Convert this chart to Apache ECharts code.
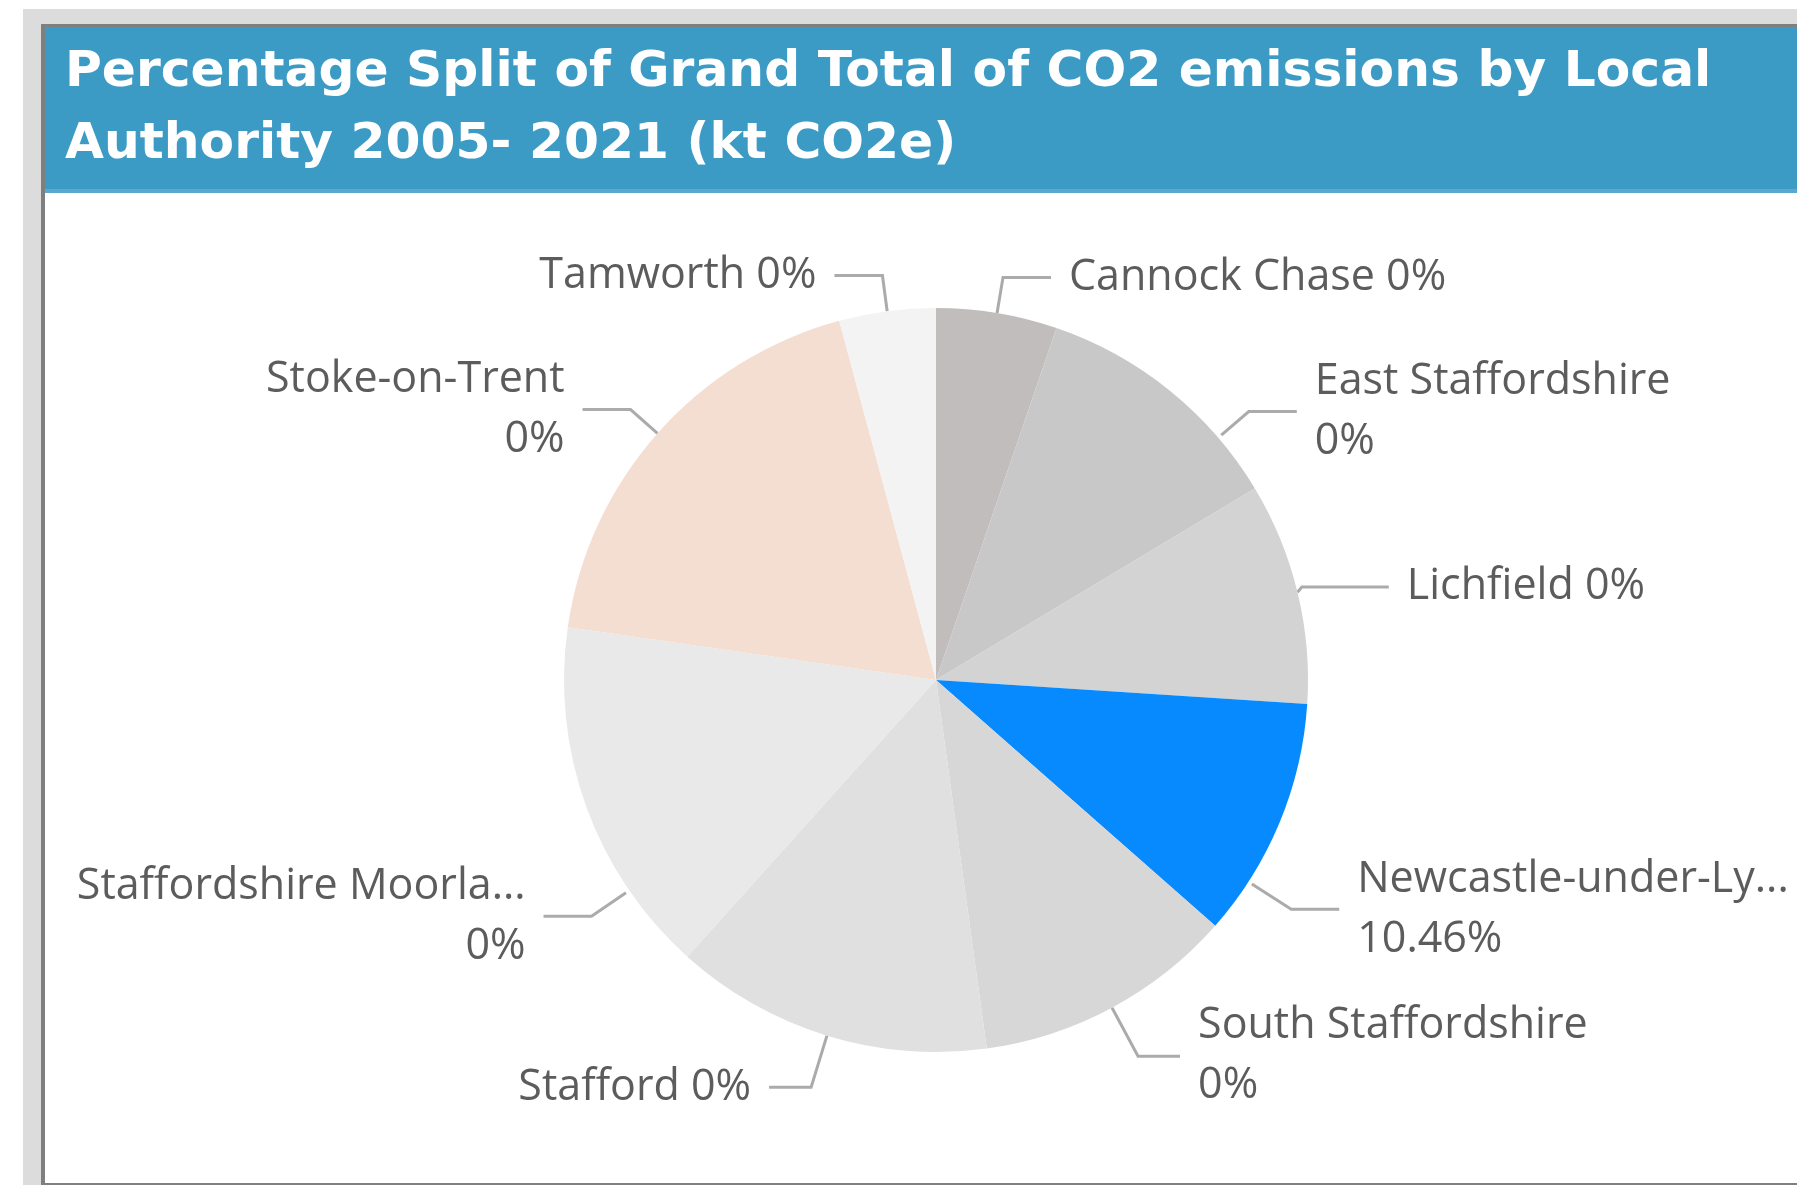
<!DOCTYPE html>
<html>
<head>
<meta charset="utf-8">
<title>CO2 emissions by Local Authority</title>
<script src="https://cdn.jsdelivr.net/npm/echarts@6/dist/echarts.min.js"></script>
<style>
  html, body { margin: 0; padding: 0; background: #ffffff; }
  #chart { width: 1797px; height: 1185px; }
</style>
</head>
<body>
<div id="chart"></div>
<script>
// Local authorities, clockwise from 12 o'clock
const authorities = [
  'Cannock Chase',
  'East Staffordshire',
  'Lichfield',
  'Newcastle-under-Lyme',
  'South Staffordshire',
  'Stafford',
  'Staffordshire Moorlands',
  'Stoke-on-Trent',
  'Tamworth'
];

// Share of the 2005-2021 grand total (%)
const shareOfTotal = [5.25, 11.14, 9.64, 10.46, 11.33, 13.83, 15.61, 18.55, 4.19];

// Names as they fit in the data labels
const labelNames = [
  'Cannock Chase',
  'East Staffordshire',
  'Lichfield',
  'Newcastle-under-Ly...',
  'South Staffordshire',
  'Stafford',
  'Staffordshire Moorla...',
  'Stoke-on-Trent',
  'Tamworth'
];

// The selected authority; all others report 0% of the selection
const selectedAuthority = 'Newcastle-under-Lyme';

const sliceColors = ['#c1bdbc', '#c8c8c8', '#d3d3d3', '#078afe', '#d7d7d7', '#e0e0e0', '#e9e9e9', '#f4ded2', '#f3f3f3'];
const wrappedLabels = ['East Staffordshire', 'Newcastle-under-Lyme', 'South Staffordshire', 'Staffordshire Moorlands', 'Stoke-on-Trent'];

const W = 1797, H = 1185;
const CX = 936, CY = 680, R = 372;
const GAP = 18, ELBOW = 48;

// Leader-line lengths that differ from the series default
const lineTweaks = {
  'Lichfield': { length: 22, length2: 87 },
  'South Staffordshire': { length: 55, length2: 42 },
  'Stafford': { length: 54, length2: 42 }
};
// Labels that sit further round the pie than their slice's mid angle
const labelNudges = {
  'East Staffordshire': { dx: 63, dy: 42 },
  'Newcastle-under-Lyme': { dx: -8, dy: 73 },
  'Staffordshire Moorlands': { dx: 39, dy: 97 }
};

const pieData = authorities.map((name, i) => {
  const item = { name: name, value: shareOfTotal[i], itemStyle: { color: sliceColors[i] } };
  if (lineTweaks[name]) item.labelLine = lineTweaks[name];
  return item;
});

function labelFor(p) {
  const i = p.dataIndex;
  const pct = authorities[i] === selectedAuthority ? shareOfTotal[i].toFixed(2) + '%' : '0%';
  const sep = wrappedLabels.indexOf(authorities[i]) >= 0 ? '\n' : ' ';
  return labelNames[i] + sep + pct;
}

// Moved labels get a leader that runs radially out to the elbow, then across
function nudgedLayout(params) {
  const nudge = labelNudges[authorities[params.dataIndex]];
  if (!nudge) return {};
  const r = params.labelRect;
  const onLeft = r.x + r.width / 2 < CX;
  const x = (onLeft ? r.x + r.width : r.x) + nudge.dx;
  const y = r.y + r.height / 2 + nudge.dy;
  const end = [onLeft ? x + GAP : x - GAP, y];
  const elbow = [onLeft ? end[0] + ELBOW : end[0] - ELBOW, y];
  const vx = elbow[0] - CX, vy = elbow[1] - CY;
  const d = Math.sqrt(vx * vx + vy * vy);
  const start = [CX + vx * (R + 4) / d, CY + vy * (R + 4) / d];
  return {
    x: x,
    y: y,
    align: onLeft ? 'right' : 'left',
    verticalAlign: 'middle',
    labelLinePoints: [start, elbow, end]
  };
}

const chart = echarts.init(document.getElementById('chart'), null, { renderer: 'canvas', width: W, height: H });

chart.setOption({
  animation: false,
  backgroundColor: '#ffffff',
  title: {
    text: 'Percentage Split of Grand Total of CO2 emissions by Local\nAuthority 2005- 2021 (kt CO2e)',
    left: 60,
    top: 32,
    z: 20,
    textStyle: {
      color: '#ffffff',
      fontFamily: '"DejaVu Sans", sans-serif',
      fontWeight: 'bold',
      fontSize: 50.3,
      lineHeight: 72
    }
  },
  graphic: {
    elements: [
      { type: 'rect', z: 0, shape: { x: 23, y: 9, width: W - 23, height: H - 9 }, style: { fill: '#dcdcdc' } },
      { type: 'rect', z: 1, shape: { x: 41, y: 24, width: W - 41, height: H - 24 }, style: { fill: '#7f7f7f' } },
      { type: 'rect', z: 2, shape: { x: 45, y: 27, width: W - 45, height: 1156 }, style: { fill: '#ffffff' } },
      { type: 'rect', z: 3, shape: { x: 45, y: 27, width: W - 45, height: 162 }, style: { fill: '#3c9bc5' } },
      { type: 'rect', z: 3, shape: { x: 45, y: 189, width: W - 45, height: 4 }, style: { fill: '#5aa8ce' } }
    ]
  },
  series: [{
    type: 'pie',
    z: 10,
    left: -300,
    top: 0,
    right: -300,
    bottom: 0,
    center: [CX + 300, CY],
    radius: [0, R],
    startAngle: 90,
    clockwise: true,
    avoidLabelOverlap: true,
    data: pieData,
    itemStyle: { borderWidth: 0 },
    emphasis: { disabled: true },
    label: {
      show: true,
      position: 'outside',
      formatter: labelFor,
      color: '#5c5c5c',
      fontFamily: '"Open Sans", sans-serif',
      fontSize: 43,
      lineHeight: 60,
      distanceToLabelLine: GAP
    },
    labelLine: {
      show: true,
      length: 36,
      length2: ELBOW,
      smooth: false,
      lineStyle: { color: '#ababab', width: 3 }
    },
    labelLayout: nudgedLayout
  }]
});
</script>
</body>
</html>
